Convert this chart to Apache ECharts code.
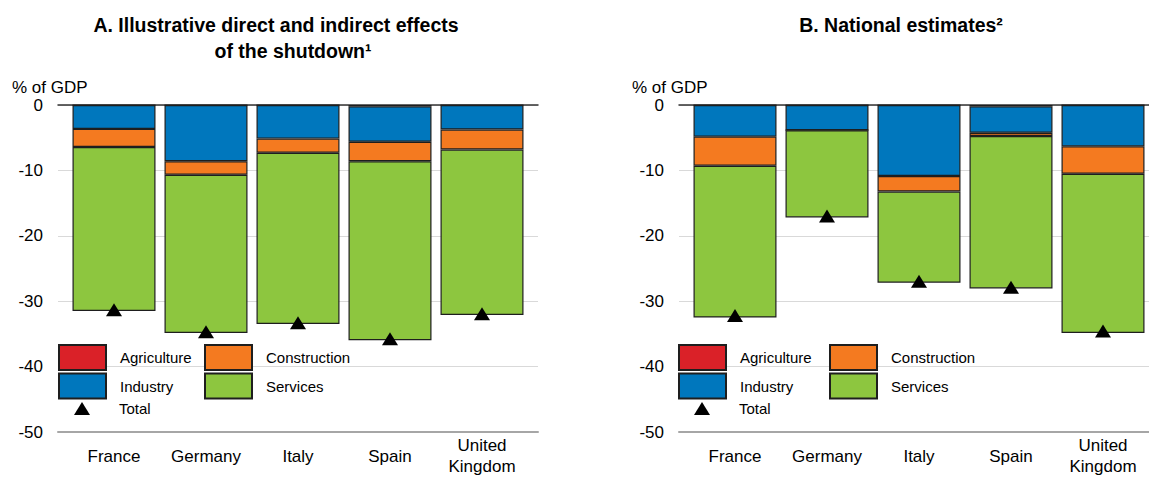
<!DOCTYPE html>
<html>
<head>
<meta charset="utf-8">
<script src="https://cdn.jsdelivr.net/npm/echarts@6/dist/echarts.min.js"></script>
<style>
  html, body { margin: 0; padding: 0; background: #ffffff; }
  #chart { width: 1149px; height: 477px; }
</style>
</head>
<body>
<div id="chart"></div>
<script>
// Sector contributions to the GDP loss, % of GDP
const categories = ['France', 'Germany', 'Italy', 'Spain', 'United\nKingdom'];
const yTicks = [0, -10, -20, -30, -40, -50];

// Panel A: illustrative direct and indirect effects
const agricultureA  = [0, 0, 0, -0.2, 0];
const industryA     = [-3.7, -8.7, -5.2, -5.5, -3.8];
const constructionA = [-2.8, -2.1, -2.2, -3.0, -3.1];
const servicesA     = [-25.4, -24.5, -26.5, -27.7, -25.6];
const totalA        = [-31.7, -35.1, -33.7, -36.2, -32.3];

// Panel B: national estimates
const agricultureB  = [0, 0, 0, -0.2, 0];
const industryB     = [-4.9, -3.9, -11.0, -4.1, -6.4];
const constructionB = [-4.5, 0, -2.4, -0.5, -4.25];
const servicesB     = [-23.5, -13.5, -14.1, -23.6, -24.65];
const totalB        = [-32.6, -17.2, -27.3, -28.2, -35.0];

const FONT = '"Liberation Sans", Arial, sans-serif';
const COLORS = {
  Agriculture: '#da2128',
  Industry: '#0077bd',
  Construction: '#f47a20',
  Services: '#8dc63f'
};

const Y_MIN = yTicks[yTicks.length - 1];
const Y_MAX = yTicks[0];

// Each panel: a wide frame grid (gridlines, axis lines, y labels) and an
// inset grid holding the bars, so the rules run a little past the outer bars.
const frameLefts = [58, 679];
const panels = [
  { agri: agricultureA, ind: industryA, con: constructionA, ser: servicesA, tot: totalA },
  { agri: agricultureB, ind: industryB, con: constructionB, ser: servicesB, tot: totalB }
];

const grids = [];
const xAxes = [];
const yAxes = [];
frameLefts.forEach((l, g) => {
  // frame grid: index 2g
  grids.push({ left: l, width: 480, top: 105, height: 327 });
  // bar grid: index 2g+1
  grids.push({ left: l + 10, width: 460, top: 105, height: 327 });

  // frame axes
  xAxes.push({
    type: 'value', gridIndex: 2 * g, position: 'bottom', min: 0, max: 1,
    axisLine: { show: true, onZero: false, lineStyle: { color: '#a6a6a6', width: 2 } },
    axisTick: { show: false }, axisLabel: { show: false }, splitLine: { show: false }
  });
  xAxes.push({
    type: 'value', gridIndex: 2 * g, position: 'top', min: 0, max: 1,
    axisLine: { show: true, onZero: false, lineStyle: { color: '#333', width: 1.5 } },
    axisTick: { show: false }, axisLabel: { show: false }, splitLine: { show: false }
  });
  yAxes.push({
    type: 'value', gridIndex: 2 * g, min: Y_MIN, max: Y_MAX, interval: 10,
    axisLine: { show: false }, axisTick: { show: false },
    splitLine: { show: true, lineStyle: { color: '#d9d9d9', width: 1 } },
    axisLabel: { fontFamily: FONT, fontSize: 17, color: '#000', margin: 15 }
  });

  // bar axes
  xAxes.push({
    type: 'category', gridIndex: 2 * g + 1, position: 'bottom', data: categories,
    axisLine: { show: false }, axisTick: { show: false }, splitLine: { show: false },
    axisLabel: {
      interval: 0, fontFamily: FONT, fontSize: 17, color: '#000',
      margin: 28, verticalAlign: 'middle', lineHeight: 21
    }
  });
  yAxes.push({
    type: 'value', gridIndex: 2 * g + 1, min: Y_MIN, max: Y_MAX, interval: 10,
    axisLine: { show: false }, axisTick: { show: false },
    axisLabel: { show: false }, splitLine: { show: false }
  });
});

const series = [];
panels.forEach((p, g) => {
  const stack = 'sectors' + g;
  const xi = 3 * g + 2;   // category axis of this panel
  const yi = 2 * g + 1;
  const parts = [
    ['Agriculture', p.agri],
    ['Industry', p.ind],
    ['Construction', p.con],
    ['Services', p.ser]
  ];
  parts.forEach(([name, vals]) => {
    series.push({
      name, type: 'bar', stack,
      xAxisIndex: xi, yAxisIndex: yi,
      barWidth: 83,
      itemStyle: { color: COLORS[name], borderColor: '#1e1e1e', borderWidth: 1.2 },
      emphasis: { disabled: true },
      data: vals
    });
  });
  series.push({
    name: 'Total', type: 'scatter',
    xAxisIndex: xi, yAxisIndex: yi,
    symbol: 'triangle', symbolSize: [16, 13],
    itemStyle: { color: '#000', opacity: 1 },
    z: 5,
    emphasis: { disabled: true },
    data: p.tot
  });
});

// legends: two columns of sector swatches plus the total marker, per panel
const legendText = { fontFamily: FONT, fontSize: 15, color: '#000', padding: [0, 0, 0, 9] };
const legends = [];
[[58, 204], [678, 829]].forEach(([c1, c2]) => {
  const common = {
    orient: 'vertical', top: 344, itemWidth: 47, itemHeight: 25, itemGap: 1.5,
    icon: 'rect', selectedMode: false, padding: 0, textStyle: legendText
  };
  legends.push(Object.assign({}, common, { left: c1, data: ['Agriculture', 'Industry'] }));
  legends.push(Object.assign({}, common, { left: c2, data: ['Construction', 'Services'] }));
  legends.push({
    orient: 'vertical', top: 401, left: c1 + 16, itemWidth: 16, itemHeight: 13,
    selectedMode: false, padding: 0, data: ['Total'],
    textStyle: Object.assign({}, legendText, { padding: [5, 0, 0, 24] })
  });
});

const titleFont = 'bold 19.5px ' + FONT;
const plainFont = '17px ' + FONT;
const graphic = [
  { type: 'text', x: 276, y: 25, style: { text: 'A. Illustrative direct and indirect effects', font: titleFont, fill: '#000', align: 'center', verticalAlign: 'middle' } },
  { type: 'text', x: 293, y: 51, style: { text: 'of the shutdown\u00b9', font: titleFont, fill: '#000', align: 'center', verticalAlign: 'middle' } },
  { type: 'text', x: 901, y: 25, style: { text: 'B. National estimates\u00b2', font: titleFont, fill: '#000', align: 'center', verticalAlign: 'middle' } },
  { type: 'text', x: 12, y: 87, style: { text: '% of GDP', font: plainFont, fill: '#000', align: 'left', verticalAlign: 'middle' } },
  { type: 'text', x: 632, y: 87, style: { text: '% of GDP', font: plainFont, fill: '#000', align: 'left', verticalAlign: 'middle' } }
];

const chart = echarts.init(document.getElementById('chart'), null, { renderer: 'svg' });
chart.setOption({
  animation: false,
  backgroundColor: '#ffffff',
  grid: grids,
  xAxis: xAxes,
  yAxis: yAxes,
  legend: legends,
  graphic,
  series
});
</script>
</body>
</html>
